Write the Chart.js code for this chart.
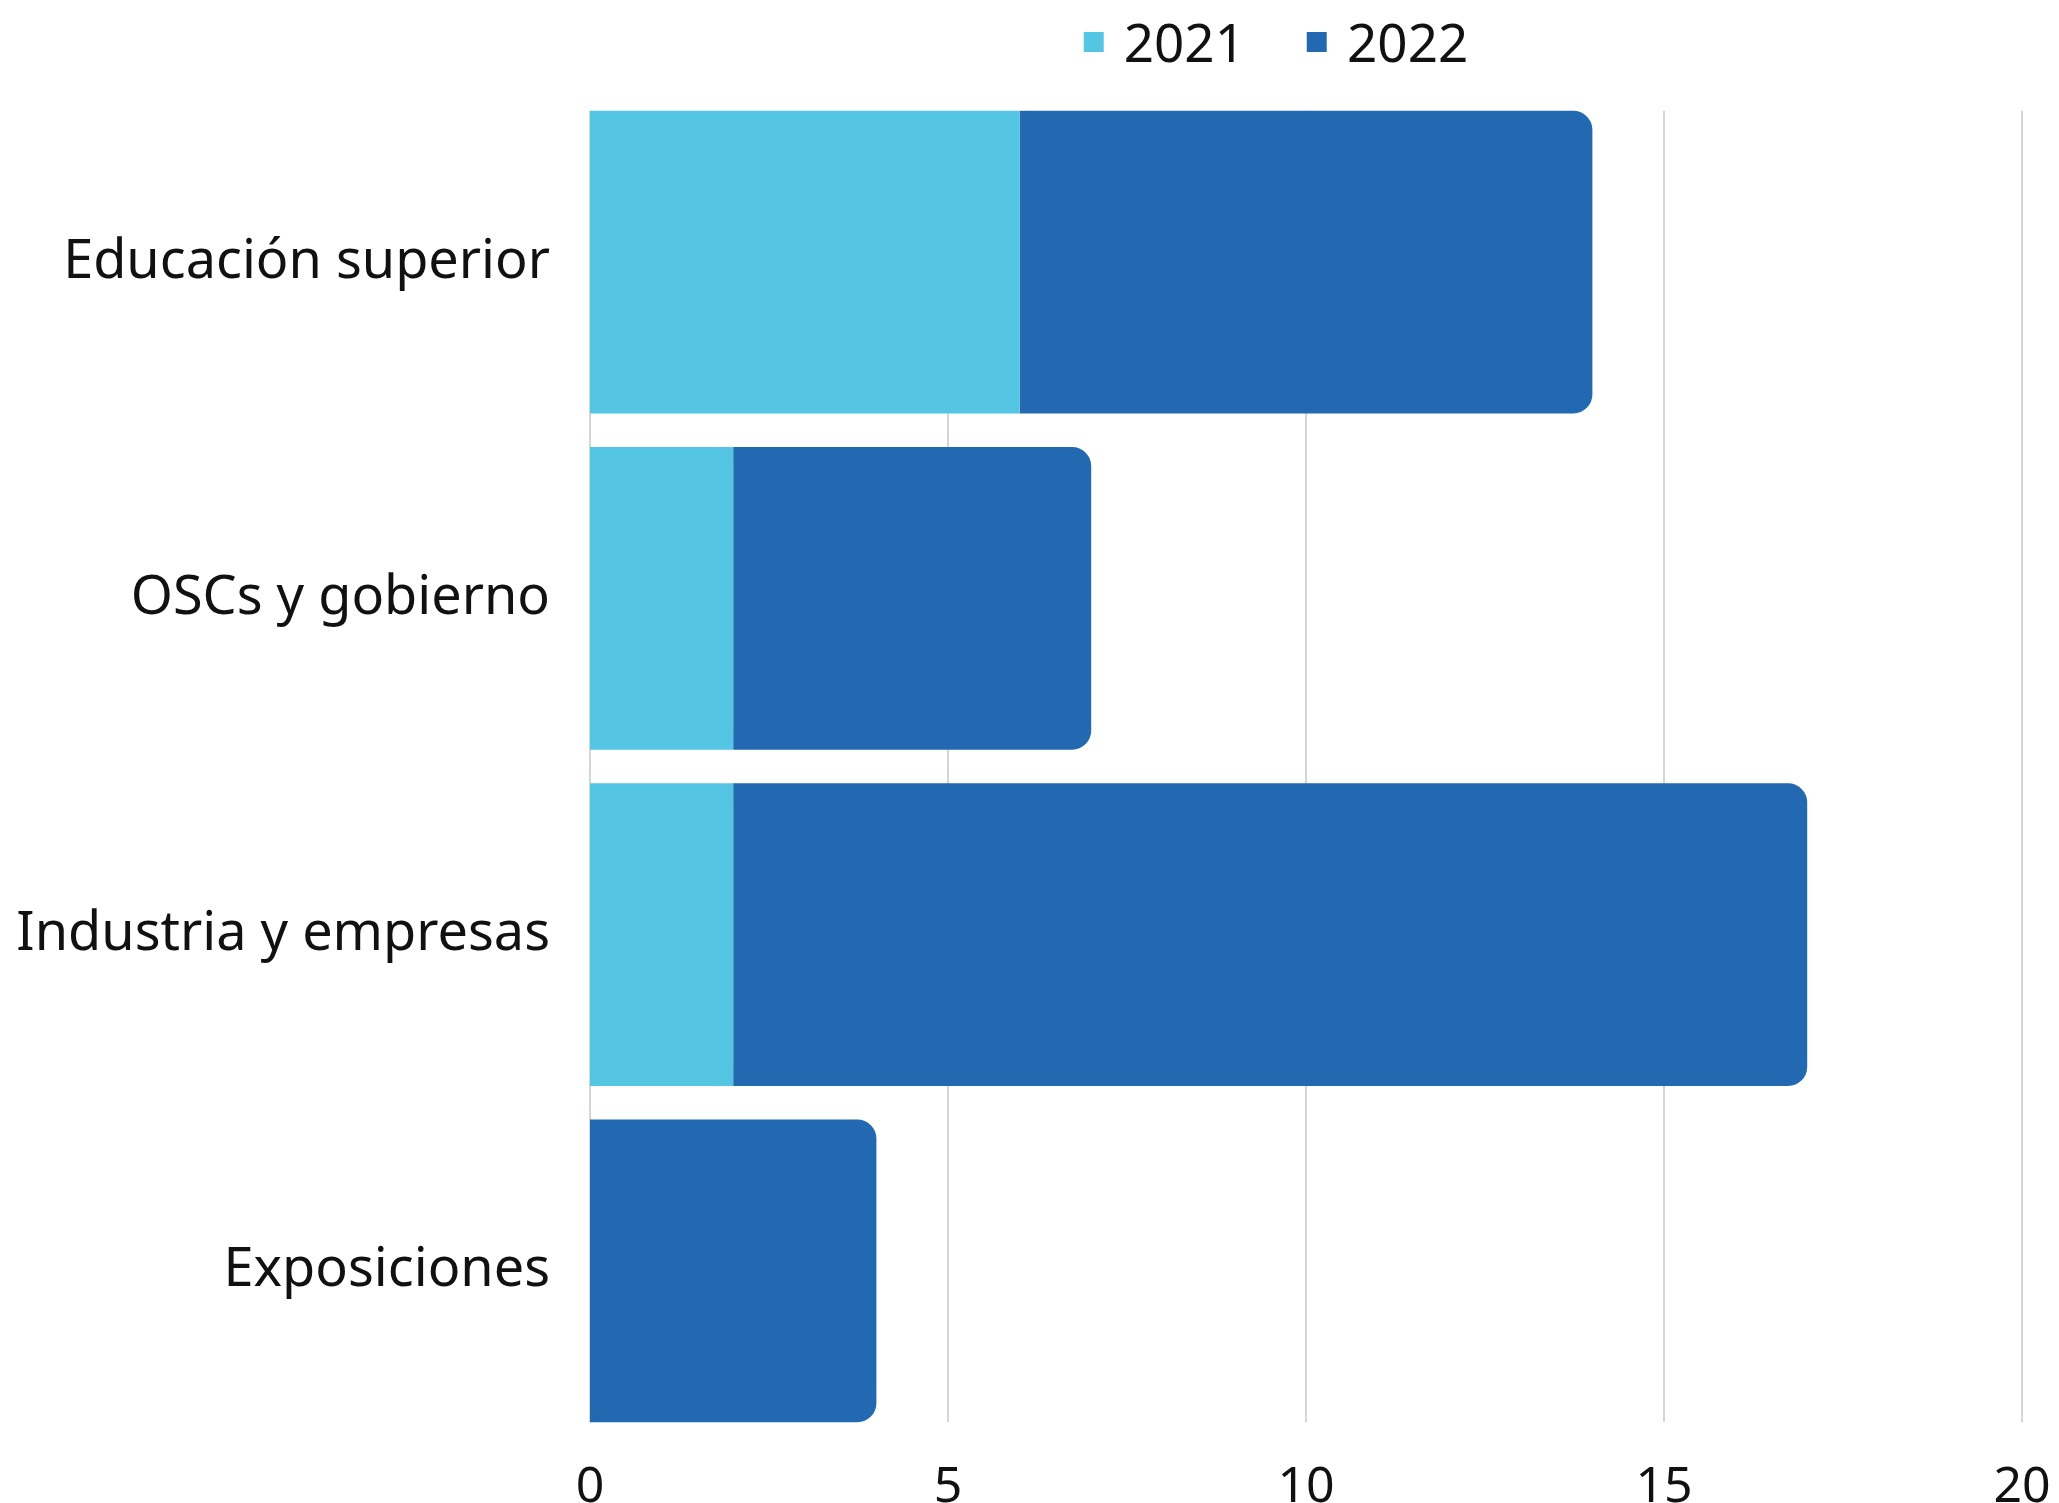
<!DOCTYPE html>
<html>
<head>
<meta charset="utf-8">
<script src="https://cdn.jsdelivr.net/npm/chart.js@4"></script>
<style>
  html, body { margin: 0; padding: 0; background: #ffffff; }
  #wrap { width: 2059px; height: 1503px; position: relative; }
  #legend {
    position: absolute; top: 12px; left: 1276px; transform: translateX(-50%);
    display: flex; align-items: center; height: 60px;
    font-family: "Noto Sans", sans-serif; font-size: 53px; line-height: 60px; color: #111111;
    white-space: nowrap;
  }
  #legend .item { display: flex; align-items: center; margin-right: 62px; }
  #legend .item:last-child { margin-right: 0; }
  #legend .box { width: 20px; height: 20px; margin-right: 20px; }
</style>
</head>
<body>
<div id="wrap">
  <div id="legend"></div>
  <canvas id="sectorChart"></canvas>
</div>
<script>
const categories = ['Educación superior', 'OSCs y gobierno', 'Industria y empresas', 'Exposiciones'];
const values2021 = [6, 2, 2, 0];
const values2022 = [8, 5, 15, 4];
const xTicks = [0, 5, 10, 15, 20];

const FONT = '"Noto Sans", sans-serif';

// vertical grid lines, only between the top of the first bar and the bottom of the last one
const shortGrid = {
  id: 'shortGrid',
  beforeDatasetsDraw(chart) {
    const bars = chart.getDatasetMeta(1).data;
    if (!bars.length) return;
    let top = Infinity, bottom = -Infinity;
    bars.forEach(b => {
      top = Math.min(top, b.y - b.height / 2);
      bottom = Math.max(bottom, b.y + b.height / 2);
    });
    const xScale = chart.scales.x;
    const c = chart.ctx;
    c.save();
    c.strokeStyle = '#d6d6d6';
    c.lineWidth = 2;
    xScale.ticks.forEach(t => {
      const x = Math.round(xScale.getPixelForValue(t.value));
      c.beginPath();
      c.moveTo(x, top);
      c.lineTo(x, bottom);
      c.stroke();
    });
    c.restore();
  }
};

// html legend built from the datasets
const htmlLegend = {
  id: 'htmlLegend',
  afterUpdate(chart) {
    const el = document.getElementById('legend');
    el.innerHTML = '';
    chart.data.datasets.forEach(ds => {
      const item = document.createElement('div');
      item.className = 'item';
      const box = document.createElement('span');
      box.className = 'box';
      box.style.background = ds.backgroundColor;
      const txt = document.createElement('span');
      txt.textContent = ds.label;
      item.appendChild(box);
      item.appendChild(txt);
      el.appendChild(item);
    });
  }
};

const ctx = document.getElementById('sectorChart').getContext('2d');
const chart = new Chart(ctx, {
  type: 'bar',
  data: {
    labels: categories,
    datasets: [
      {
        label: '2021',
        data: values2021,
        backgroundColor: '#54c5e3',
        borderWidth: 0,
        borderRadius: 0
      },
      {
        label: '2022',
        data: values2022,
        backgroundColor: '#2269b2',
        borderWidth: 0,
        borderRadius: 19,
        borderSkipped: 'start'
      }
    ]
  },
  options: {
    indexAxis: 'y',
    responsive: true,
    maintainAspectRatio: false,
    devicePixelRatio: 1,
    animation: false,
    layout: { padding: { left: 0, right: 37, top: 94, bottom: 0 } },
    datasets: {
      bar: { categoryPercentage: 1.0, barPercentage: 0.9 }
    },
    scales: {
      x: {
        stacked: true,
        min: 0,
        max: 20,
        afterBuildTicks: (scale) => { scale.ticks = xTicks.map(v => ({ value: v })); },
        afterFit: (scale) => {
          scale.height = 64;
          scale.paddingRight = 0;
          scale.paddingLeft = 0;
        },
        grid: { display: false, drawTicks: false },
        border: { display: false },
        ticks: {
          color: '#111111',
          padding: 19,
          font: { family: FONT, size: 50 }
        }
      },
      y: {
        stacked: true,
        grid: { display: false, drawTicks: false },
        border: { display: false },
        afterFit: (scale) => {
          scale.width = 590;
          scale.paddingTop = 0;
          scale.paddingBottom = 0;
        },
        ticks: {
          color: '#111111',
          padding: 40,
          font: { family: FONT, size: 54 }
        }
      }
    },
    plugins: {
      legend: { display: false },
      tooltip: { enabled: false }
    }
  },
  plugins: [shortGrid, htmlLegend]
});
</script>
</body>
</html>
